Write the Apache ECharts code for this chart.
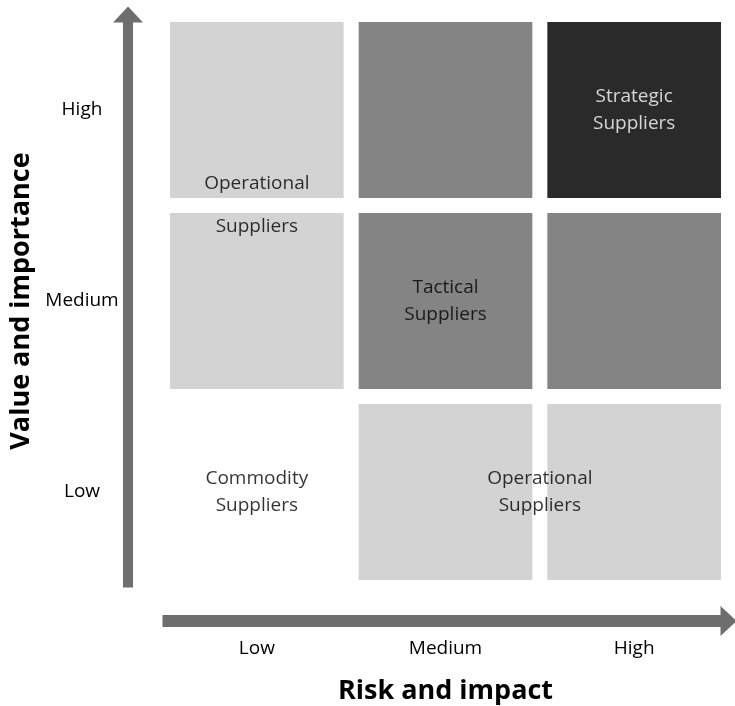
<!DOCTYPE html>
<html>
<head>
<meta charset="utf-8">
<script src="https://cdn.jsdelivr.net/npm/echarts@6/dist/echarts.min.js"></script>
<style>
  html, body { margin: 0; padding: 0; background: #fff; }
  #chart { width: 735px; height: 706px; }
</style>
</head>
<body>
<div id="chart"></div>
<script>
// categorias de los ejes
const riskLevels = ['Low', 'Medium', 'High'];
const valueLevels = ['Low', 'Medium', 'High'];

// celdas: [columna, fila, tono] (1 = claro, 2 = medio, 3 = oscuro)
const cells = [
  [1, 0, 1], [2, 0, 1],
  [0, 1, 1], [1, 1, 2], [2, 1, 2],
  [0, 2, 1], [1, 2, 2], [2, 2, 3]
];

// etiquetas dentro de la matriz (posicion en unidades de celda)
const labelTexts = ['Operational\nSuppliers', 'Strategic\nSuppliers', 'Tactical\nSuppliers', 'Operational\nSuppliers', 'Commodity\nSuppliers'];
const labelX = [0.5, 2.5, 1.5, 2.0, 0.5];
const labelY = [2.0, 2.5, 1.5, 0.5, 0.5];

const shadeColors = ['#ffffff', '#d3d3d3', '#848484', '#2a2a2a'];
const textColors = ['#000', '#fff', '#000', '#000', '#000'];
const labelLineHeights = [43, 27, 27, 27, 27];

const chartDom = document.getElementById('chart');
const myChart = echarts.init(chartDom);

const font = '"Open Sans", "Noto Sans", sans-serif';
const gap = 7.5;

const option = {
  animation: false,
  textStyle: { fontFamily: font },
  grid: { left: 162.5, right: 6.5, top: 14.5, bottom: 118.5, outerBoundsMode: 'none', containLabel: false },
  xAxis: [
    {
      type: 'category',
      data: riskLevels,
      offset: 33.5,
      name: 'Risk and impact',
      nameLocation: 'middle',
      nameGap: 57,
      nameTextStyle: { fontSize: 27, fontWeight: 'bold', color: '#000', fontFamily: font },
      axisLine: {
        show: true,
        onZero: false,
        symbol: ['none', 'triangle'],
        symbolSize: [30, 16],
        lineStyle: { color: '#6e6e6e', width: 12, cap: 'butt' }
      },
      axisTick: { show: false },
      axisLabel: { fontSize: 19, color: '#000', margin: 18 },
      splitLine: { show: false }
    },
    { type: 'value', min: 0, max: 3, show: false }
  ],
  yAxis: [
    {
      type: 'category',
      data: valueLevels,
      offset: 34.5,
      name: 'Value and importance',
      nameLocation: 'middle',
      nameGap: 92,
      nameRotate: 90,
      nameTextStyle: { fontSize: 27, fontWeight: 'bold', color: '#000', fontFamily: font },
      axisLine: {
        show: true,
        onZero: false,
        symbol: ['none', 'triangle'],
        symbolSize: [30, 16],
        lineStyle: { color: '#6e6e6e', width: 10, cap: 'butt' }
      },
      axisTick: { show: false },
      axisLabel: { fontSize: 19, color: '#000', margin: 46, align: 'center' },
      splitLine: { show: false }
    },
    { type: 'value', min: 0, max: 3, show: false }
  ],
  series: [
    {
      type: 'custom',
      xAxisIndex: 0,
      yAxisIndex: 0,
      data: cells,
      renderItem: function (params, api) {
        const c = api.coord([api.value(0), api.value(1)]);
        const s = api.size([1, 1]);
        return {
          type: 'rect',
          shape: {
            x: c[0] - s[0] / 2 + gap,
            y: c[1] - s[1] / 2 + gap,
            width: s[0] - 2 * gap,
            height: s[1] - 2 * gap
          },
          style: { fill: shadeColors[api.value(2)] }
        };
      }
    },
    {
      type: 'scatter',
      xAxisIndex: 1,
      yAxisIndex: 1,
      symbolSize: 0,
      data: labelTexts.map((t, i) => ({
        value: [labelX[i], labelY[i]],
        name: t,
        label: { color: textColors[i], lineHeight: labelLineHeights[i] }
      })),
      label: {
        show: true,
        position: 'inside',
        formatter: p => p.name,
        fontSize: 19,
        fontFamily: font,
        align: 'center',
        verticalAlign: 'middle'
      },
      silent: true
    }
  ]
};

option && myChart.setOption(option);
</script>
</body>
</html>
